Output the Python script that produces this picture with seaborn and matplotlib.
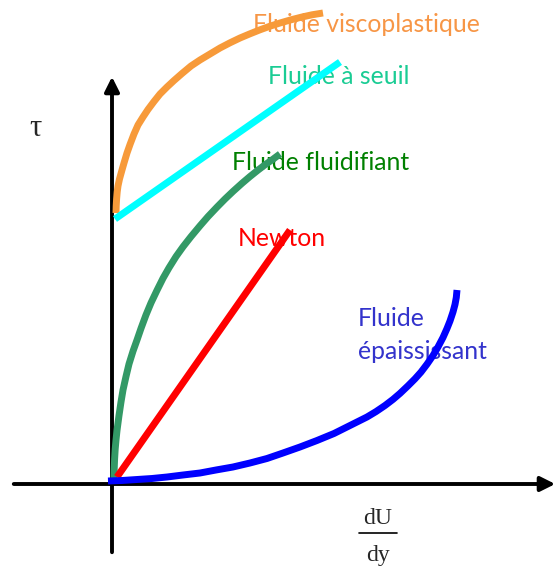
import matplotlib
matplotlib.use('Agg')
import matplotlib.pyplot as plt
import seaborn as sns

# curves (origin at the axis crossing, y up)
newton_x = [5, 178]
newton_y = [7, 254]

seuil_x = [3, 228]
seuil_y = [265, 422]

visco_x = [4, 4.2, 4.6, 5.2, 6, 7.5, 10, 12, 15, 18, 22, 26, 31, 36, 42, 48, 55, 62, 70, 79,
           88, 98, 108, 118, 128, 138, 148, 158, 168, 179, 190, 200, 211]
visco_y = [271, 278, 285, 292, 298, 305, 314, 321, 331, 339.5, 350, 359, 367, 374.5, 382.5, 390,
           397, 403.5, 410.5, 418, 424, 430, 436, 441.2, 446, 450.2, 454.2, 457.8, 461, 464.2,
           467, 469.2, 471]

fluid_x = [2, 2.2, 2.6, 3.2, 4, 5, 7, 9, 11, 14, 17, 21, 25, 29, 34, 39, 45, 51, 57, 64, 71,
           79, 88, 96, 105, 113, 121, 130, 138, 146, 153, 161, 168]
fluid_y = [6, 15, 25, 35, 44, 53.5, 68.5, 82, 94, 107.5, 120, 132.8, 144, 155.6, 169.1, 181.1,
           193.7, 205.7, 216.2, 227.4, 237.2, 247.4, 258.2, 267.4, 276.9, 285, 292.6, 300.7,
           307.5, 313.9, 319.2, 324.8, 330]

epais_x = [-4, 10, 25, 40, 55, 71, 88, 104, 121, 138, 155, 171, 188, 205, 222, 238, 255, 264,
           273, 281, 288, 296, 303, 309, 315, 321, 326, 331, 335, 338, 341, 343, 344.3, 345]
epais_y = [3, 3.5, 4.5, 5.5, 7, 9, 11, 14, 17, 21, 25.5, 31, 37, 43.5, 50.5, 58.5, 67, 72.4,
           78.5, 84.6, 90.6, 98.2, 105.2, 111.9, 119.8, 128.5, 137, 146.5, 155.5, 163, 172,
           179.5, 186.5, 194]

labels = ['Fluide viscoplastique', 'Fluide à seuil', 'Fluide fluidifiant', 'Newton', 'Fluide\népaississant']

sns.set_theme(style='white')
plt.rcParams['font.family'] = ['Lato', 'DejaVu Sans']

fig = plt.figure(figsize=(5.53, 5.67), dpi=100)
ax = fig.add_axes([0, 0, 1, 1])
ax.set_xlim(-112, 441)
ax.set_ylim(-83, 484)
ax.axis('off')

# axes with arrows
ax.annotate('', xy=(446, 0), xytext=(-101, 0), annotation_clip=False,
            arrowprops=dict(arrowstyle='-|>', lw=2.8, color='black', mutation_scale=22))
ax.annotate('', xy=(0, 410), xytext=(0, -71), annotation_clip=False,
            arrowprops=dict(arrowstyle='-|>', lw=2.8, color='black', mutation_scale=22))

lw = 5
kw = dict(sort=False, estimator=None, lw=lw, ax=ax, solid_joinstyle='round', solid_capstyle='butt')
sns.lineplot(x=visco_x, y=visco_y, color='#F79A3A', zorder=3, **kw)
sns.lineplot(x=seuil_x, y=seuil_y, color='#00FFFF', zorder=3, **kw)
sns.lineplot(x=fluid_x, y=fluid_y, color='#339966', zorder=3, **kw)
sns.lineplot(x=newton_x, y=newton_y, color='#FF0000', zorder=3, **kw)
sns.lineplot(x=epais_x, y=epais_y, color='#0000FF', zorder=4, **kw)

fs = 17.8
ax.text(141, 460, labels[0], color='#F79646', fontsize=fs, va='center', zorder=1)
ax.text(156, 408, labels[1], color='#1ACC94', fontsize=fs, va='center', zorder=1)
ax.text(120, 321, labels[2], color='#008000', fontsize=fs, va='center', zorder=1)
ax.text(126, 245, labels[3], color='#FF0000', fontsize=fs, va='center', zorder=1)
ax.text(246, 149, labels[4], color='#3333CC', fontsize=fs, va='center', zorder=1,
        linespacing=1.48)

# axis titles
ax.text(-77, 356, 'τ', fontsize=22, family='Liberation Serif', ha='center', va='center')
ax.text(266, -35, 'dU', fontsize=17, family='Liberation Serif', ha='center', va='center')
ax.plot([247, 285], [-49, -49], color='black', lw=1.2)
ax.text(266, -71, 'dy', fontsize=17, family='Liberation Serif', ha='center', va='center')

fig.savefig('out.png', dpi=100)
